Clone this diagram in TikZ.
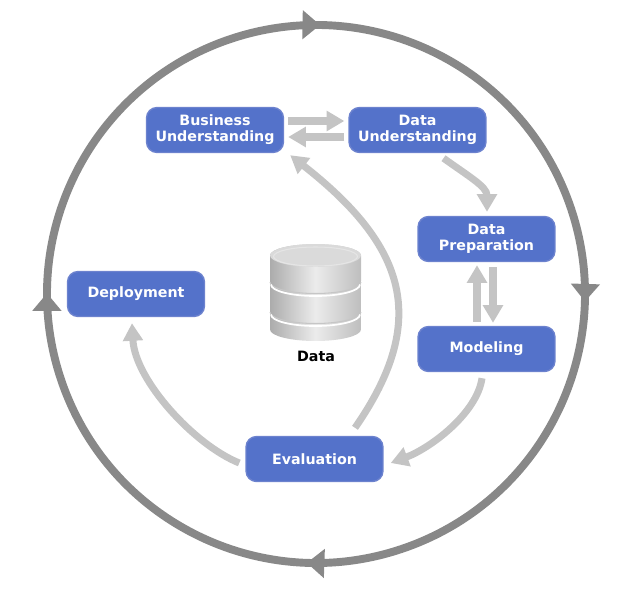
\documentclass[tikz,border=0pt]{standalone}
\usepackage{fontspec}
\setsansfont{DejaVu Sans}
\usepackage{tikz}
\usetikzlibrary{arrows.meta,positioning,calc,decorations.markings}

\definecolor{phasefill}{RGB}{84,114,202}
\definecolor{phaseedge}{RGB}{108,130,206}
\definecolor{flowgray}{RGB}{196,196,196}
\definecolor{cyclegray}{RGB}{136,136,136}
\definecolor{dbdark}{RGB}{172,172,172}
\definecolor{dblight}{RGB}{236,236,236}
\definecolor{dbside}{RGB}{190,190,190}
\definecolor{dbtop}{RGB}{218,218,218}

\tikzset{
  phase/.style={rectangle, rounded corners=6pt, draw=phaseedge, line width=0.8pt,
    fill=phasefill, text=white, align=center, minimum width=2.74cm,
    minimum height=0.9cm, inner sep=2pt},
  flow/.style={draw=flowgray, line width=4pt,
    -{Triangle[length=10pt,width=11pt]}},
  cycleline/.style={draw=cyclegray, line width=4.5pt},
}

\begin{document}
\begin{tikzpicture}[x=0.02cm, y=-0.02cm,
  font=\sffamily\bfseries\fontsize{8.1}{9.2}\selectfont]
\useasboundingbox (0,0) rectangle (635,601);

% outer cycle
\coordinate (hub) at (316,294);
\draw[cycleline, postaction={decorate}, decoration={markings,
    mark=at position 0.056 with {\arrow[cyclegray]{Triangle[length=10pt,width=16pt]}},
    mark=at position 0.308 with {\arrow[cyclegray]{Triangle[length=10pt,width=16pt]}},
    mark=at position 0.560 with {\arrow[cyclegray]{Triangle[length=10pt,width=16pt]}},
    mark=at position 0.811 with {\arrow[cyclegray]{Triangle[length=10pt,width=16pt]}}}]
  (hub) ++(200:5.38cm) arc[start angle=200, end angle=-160, radius=5.38cm];

% phases
\node[phase] (business) at (215,130) {Business\\Understanding};
\node[phase] (dataund) at (417.5,130) {Data\\Understanding};
\node[phase] (dataprep) at (486.5,239) {Data\\Preparation};
\node[phase] (deploy) at (136,294) {Deployment};
\node[phase] (model) at (486.5,349) {Modeling};
\node[phase] (evaluate) at (314.5,459) {Evaluation};

% data store
\shade[shading=axis, shading angle=90, left color=dbdark, right color=dbside, middle color=dblight]
  (270,255.5) -- (270,329.5) arc[start angle=180, end angle=360, x radius=0.91cm, y radius=0.23cm]
  -- (361,255.5) arc[start angle=0, end angle=180, x radius=0.91cm, y radius=0.23cm] -- cycle;
\foreach \yy in {282,312} {
  \draw[gray!45, line width=0.6pt] (270,\yy) arc[start angle=180, end angle=360, x radius=0.91cm, y radius=0.23cm];
  \draw[white, line width=1pt] (271,\yy+2.5) arc[start angle=180, end angle=360, x radius=0.89cm, y radius=0.23cm];
}
\fill[dbtop] (315.5,255.5) ellipse[x radius=0.91cm, y radius=0.23cm];
\draw[white!80!gray, line width=0.6pt] (315.5,256.5) ellipse[x radius=0.84cm, y radius=0.19cm];
\node[text=black] (datalabel) at (316,356) {Data};

% flows
\draw[flow] ($(business.east)+(4,-9)$) -- ($(dataund.west)+(-4,-9)$);
\draw[flow] ($(dataund.west)+(-4,7)$) -- ($(business.east)+(4,7)$);
\draw[flow] ($(dataund.south)+(26,5)$) .. controls +(25,18) and +(0,-25) .. ($(dataprep.north)+(0.5,-4)$);
\draw[flow] ($(model.north)+(-9.5,-4)$) -- ($(dataprep.south)+(-9.5,3)$);
\draw[flow] ($(dataprep.south)+(6.5,5)$) -- ($(model.north)+(6.5,-3)$);
\draw[flow] ($(model.south)+(-4.5,6)$) .. controls +(-5,35) and +(40,-15) .. ($(evaluate.east)+(7,4)$);
\draw[flow] ($(evaluate.north)+(40.5,-8)$) .. controls +(75,-108) and +(116,91) .. ($(business.south east)+(6,2)$);
\draw[flow] ($(evaluate.west)+(-6,4)$) .. controls +(-45,-18) and +(3,57) .. ($(deploy.south)+(-4,6)$);
\end{tikzpicture}
\end{document}
